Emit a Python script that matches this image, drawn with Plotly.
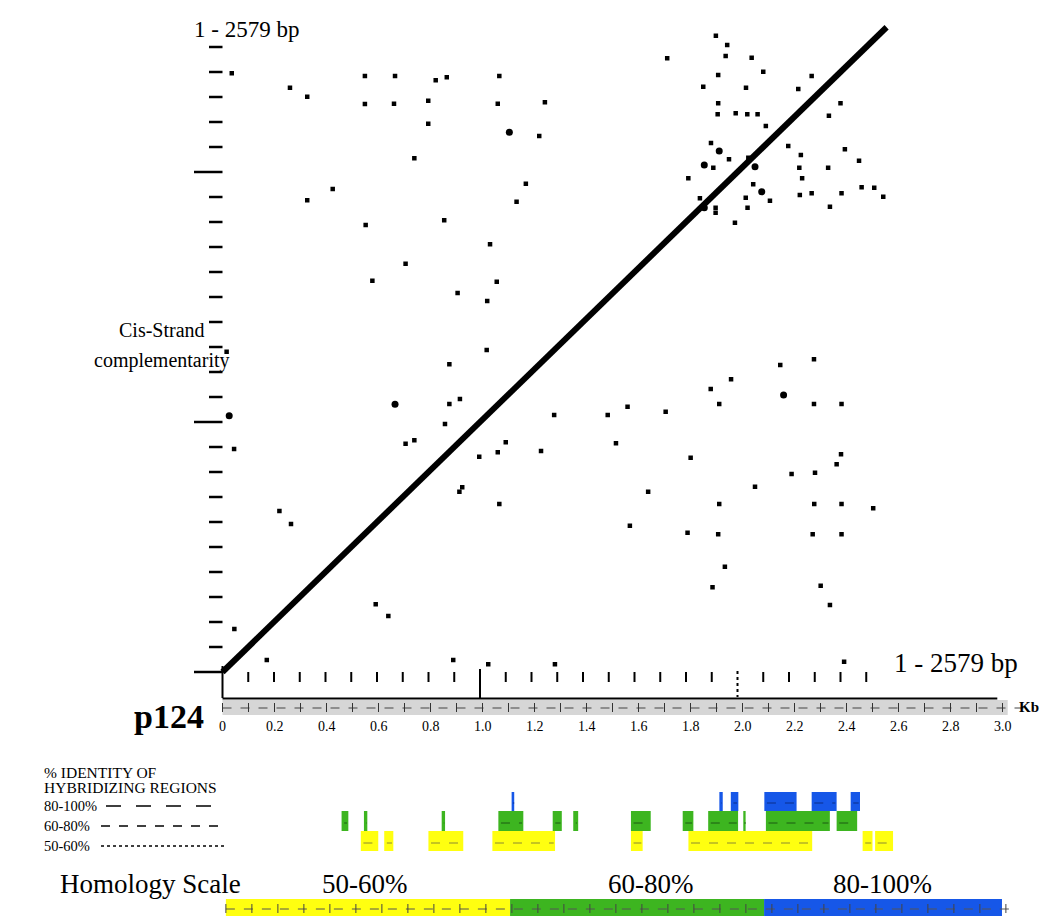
import plotly.graph_objects as go

# ------------------------------------------------------------------ data
SEQ_LEN = 2579  # bp, both axes

# isolated dot-matrix hits (x = position bp, y = position bp)
dot_x = [36, 262, 329, 553, 670, 828, 871, 1075, 553, 666, 799, 1069, 1252, 799, 1230,
         745, 1178, 428, 329, 1142, 556, 861, 1039, 711, 582, 1065, 913, 1028, 1026,
         1916, 1960, 1727, 1954, 2055, 2100, 1925, 2288, 1867, 2033, 2236, 1925, 2400,
         1923, 1993, 2038, 2078, 2355, 2110, 1897, 2197, 2246, 2417, 1967, 1906, 2042,
         2472, 2240, 2352, 1809, 2251, 2061, 2032, 2126, 2242, 2288, 2404, 2482, 2531,
         2566, 2359, 1854, 1915, 1915, 2039, 1990,
         16, 881, 881, 922, 864, 1288, 45, 711, 745, 997, 1069, 1100, 1237, 920, 931,
         1075, 221, 266, 595, 644, 46, 172, 896, 1032, 1291,
         1496, 1573, 1721, 1528, 1818, 1653, 1582, 1806, 1925, 1951, 1903, 2166, 2297,
         1975, 1896, 1929, 2297, 2404, 2068, 2210, 2301, 2402, 2385, 1929, 2298, 2404,
         2527, 2292, 2404, 2323, 2359, 2414]
dot_y = [2395, 2337, 2301, 2384, 2384, 2367, 2379, 2384, 2272, 2273, 2285, 2273, 2279, 2193, 2144,
         2055, 1953, 1932, 1887, 1881, 1788, 1807, 1711, 1633, 1565, 1561, 1516, 1484, 1288,
         2545, 2508, 2455, 2464, 2457, 2401, 2388, 2384, 2341, 2337, 2332, 2275, 2275,
         2231, 2235, 2231, 2231, 2225, 2184, 2116, 2104, 2068, 2091, 2051, 2017, 2057,
         2045, 2017, 2017, 1975, 1975, 1951, 1897, 1885, 1908, 1915, 1915, 1939, 1937,
         1901, 1861, 1895, 1857, 1837, 1857, 1797,
         1281, 1231, 1072, 1092, 992, 1028, 892, 913, 927, 861, 879, 919, 884, 721, 739,
         672, 644, 592, 271, 224, 172, 48, 48, 31, 31,
         1028, 1061, 1041, 915, 857, 721, 585, 557, 551, 421, 339, 1228, 1251,
         1171, 1132, 1072, 1072, 1072, 741, 792, 797, 871, 831, 672, 672, 672,
         655, 551, 551, 345, 268, 41]

# short hit segments / clustered hits (drawn larger)
blob_x = [1114, 1929, 1871, 2068, 1871, 2094, 26, 670, 2179]
blob_y = [2159, 2084, 2028, 2021, 1857, 1921, 1025, 1071, 1108]

# axis ticks (bp)
y_tick_bp = [0, 100, 200, 300, 400, 500, 600, 700, 800, 900, 1000, 1100, 1200, 1300,
             1400, 1500, 1600, 1700, 1800, 1900, 2000, 2100, 2200, 2300, 2400, 2500]
x_tick_bp = [0, 100, 200, 300, 400, 500, 600, 700, 800, 900, 1000, 1100, 1200, 1300,
             1400, 1500, 1600, 1700, 1800, 1900, 2000, 2100, 2200, 2300, 2400, 2500]

# kilobase ruler
kb_ticks = [0, 0.2, 0.4, 0.6, 0.8, 1.0, 1.2, 1.4, 1.6, 1.8, 2.0, 2.2, 2.4, 2.6, 2.8, 3.0]
kb_labels = ["0", "0.2", "0.4", "0.6", "0.8", "1.0", "1.2", "1.4", "1.6", "1.8",
             "2.0", "2.2", "2.4", "2.6", "2.8", "3.0"]
kb_minor = [0.0, 0.1, 0.2, 0.3, 0.4, 0.5, 0.6, 0.7, 0.8, 0.9, 1.0, 1.1, 1.2, 1.3, 1.4,
            1.5, 1.6, 1.7, 1.8, 1.9, 2.0, 2.1, 2.2, 2.3, 2.4, 2.5, 2.6, 2.7, 2.8, 2.9, 3.0]

# hybridizing regions (kb)
hi_start = [1.112, 1.911, 1.955, 2.084, 2.266, 2.416]              # 80-100 %
hi_end = [1.122, 1.924, 1.984, 2.208, 2.362, 2.452]
mid_start = [0.458, 0.544, 0.843, 1.061, 1.270, 1.349, 1.571, 1.770, 1.868, 2.003, 2.090, 2.362]  # 60-80 %
mid_end = [0.484, 0.557, 0.856, 1.157, 1.305, 1.368, 1.647, 1.811, 1.983, 2.012, 2.336, 2.441]
low_start = [0.532, 0.622, 0.792, 1.038, 1.571, 1.792, 2.462, 2.510]  # 50-60 %
low_end = [0.599, 0.657, 0.926, 1.279, 1.616, 2.268, 2.500, 2.579]

# homology scale (kb)
scale_edges = [0.013, 1.106, 2.083, 2.998]
scale_labels = ["50-60%", "60-80%", "80-100%"]

# ------------------------------------------------------------------ geometry / style
W, H = 1044, 916
X0_PX, SX = 222.5, 0.2575   # bp axis: pixel of 0 bp, px per bp
Y0_PX, SY = 672.0, 0.25
K0_PX, SK = 222.5, 260.0    # kb axis: pixel of 0 kb, px per kb
FONT = "Liberation Serif"
YELLOW, GREEN, BLUE = "#ffff10", "#3db520", "#1657e8"
DK_YELLOW, DK_GREEN, DK_BLUE = "#8c8a30", "#1d5a12", "#0a2f8a"


def bx(px):      # pixel x -> bp axis
    return (px - X0_PX) / SX


def by(py):      # pixel y -> bp axis
    return (Y0_PX - py) / SY


def py2p(py):    # pixel y -> paper
    return 1 - py / H


fig = go.Figure()

# main diagonal (sequence vs itself)
fig.add_trace(go.Scatter(x=[0, SEQ_LEN], y=[0, SEQ_LEN], mode="lines",
                         line=dict(color="black", width=6), hoverinfo="skip"))
fig.add_trace(go.Scatter(x=dot_x, y=dot_y, mode="markers",
                         marker=dict(color="black", size=4.5, symbol="square"), hoverinfo="skip"))
fig.add_trace(go.Scatter(x=blob_x, y=blob_y, mode="markers",
                         marker=dict(color="black", size=7, symbol="circle"), hoverinfo="skip"))
# dummy trace so that the kb axis exists
fig.add_trace(go.Scatter(x=[0], y=[0], xaxis="x2", mode="markers",
                         marker=dict(opacity=0), hoverinfo="skip"))

shapes = []
# y ticks
for v in y_tick_bp:
    long = (v % 1000 == 0)
    shapes.append(dict(type="line", xref="x", yref="y", x0=bx(194 if long else 209), x1=0,
                       y0=v, y1=v, line=dict(color="black", width=2.5)))
# x ticks
for v in x_tick_bp:
    if v == 0:
        y0, y1, dash = 666, 698, "solid"
    elif v == 1000:
        y0, y1, dash = 669, 698, "solid"
    elif v == 2000:
        y0, y1, dash = 671, 697, "dot"
    else:
        y0, y1, dash = 672, 682, "solid"
    shapes.append(dict(type="line", xref="x", yref="y", x0=v, x1=v, y0=by(y0), y1=by(y1),
                       line=dict(color="black", width=2, dash=dash)))

# kb ruler band
shapes.append(dict(type="rect", xref="x2", yref="paper", x0=0, x1=3.02, y0=py2p(715), y1=py2p(700),
                   fillcolor="#d6d6d6", line=dict(width=0), layer="below"))
shapes.append(dict(type="line", xref="x2", yref="paper", x0=0, x1=2.98, y0=py2p(698.5), y1=py2p(698.5),
                   line=dict(color="black", width=2)))
shapes.append(dict(type="line", xref="x2", yref="paper", x0=0, x1=3.12, y0=py2p(708), y1=py2p(708),
                   line=dict(color="#444", width=1, dash="dash")))
for v in kb_minor:
    shapes.append(dict(type="line", xref="x2", yref="paper", x0=v, x1=v, y0=py2p(712), y1=py2p(703),
                       line=dict(color="#333", width=1)))

# hybridizing region bars
rows = [(hi_start, hi_end, BLUE, DK_BLUE, 792, 811, 803),
        (mid_start, mid_end, GREEN, DK_GREEN, 811, 831, 823),
        (low_start, low_end, YELLOW, DK_YELLOW, 831, 851, 843)]
for starts, ends, col, dk, top, bot, mid in rows:
    for s, e in zip(starts, ends):
        shapes.append(dict(type="rect", xref="x2", yref="paper", x0=s, x1=e,
                           y0=py2p(bot), y1=py2p(top), fillcolor=col, line=dict(width=0)))
        shapes.append(dict(type="line", xref="x2", yref="paper", x0=s + 0.01, x1=e - 0.005,
                           y0=py2p(mid), y1=py2p(mid), line=dict(color=dk, width=1, dash="dash")))

# legend lines for identity classes
for py, dash, x0 in [(806, "longdash", 106), (826, "dash", 101), (846, "dot", 101)]:
    shapes.append(dict(type="line", xref="paper", yref="paper", x0=x0 / W,
                       x1=225 / W, y0=py2p(py), y1=py2p(py), line=dict(color="black", width=1.3, dash=dash)))

# homology scale bar
for (s, e), col in zip(zip(scale_edges[:-1], scale_edges[1:]), [YELLOW, GREEN, BLUE]):
    shapes.append(dict(type="rect", xref="x2", yref="paper", x0=s, x1=e, y0=0, y1=py2p(899),
                       fillcolor=col, line=dict(width=0)))
shapes.append(dict(type="line", xref="x2", yref="paper", x0=scale_edges[0], x1=3.04,
                   y0=py2p(909), y1=py2p(909), line=dict(color="#555", width=1, dash="dash")))
for v in kb_minor:
    shapes.append(dict(type="line", xref="x2", yref="paper", x0=v + 0.013, x1=v + 0.013,
                       y0=py2p(913), y1=py2p(904), line=dict(color="#444", width=1)))

annotations = []


def txt(x, y, s, size, anchor="left", bold=False, xref="paper"):
    annotations.append(dict(x=x, y=py2p(y), xref=xref, yref="paper", text=f"<b>{s}</b>" if bold else s,
                            showarrow=False, xanchor=anchor, yanchor="middle",
                            font=dict(family=FONT, size=size, color="black")))


txt(192 / W, 29, f"1 - {SEQ_LEN} bp", 23)
txt(892 / W, 663, f"1 - {SEQ_LEN} bp", 27)
txt(162 / W, 330, "Cis-Strand", 20, "center")
txt(162 / W, 360, "complementarity", 20, "center")
txt(206 / W, 716, "p124", 34, "right", bold=True)
for v, lab in zip(kb_ticks, kb_labels):
    annotations.append(dict(x=v, y=py2p(726), xref="x2", yref="paper", text=lab, showarrow=False,
                            xanchor="center", yanchor="middle",
                            font=dict(family=FONT, size=14, color="black")))
txt(1017 / W, 707, "Kb", 15, bold=True)

txt(42 / W, 772, "% IDENTITY OF", 15.5)
txt(42 / W, 787, "HYBRIDIZING REGIONS", 15.5)
txt(42 / W, 806, "80-100%", 14.5)
txt(42 / W, 826, "60-80%", 14.5)
txt(42 / W, 846, "50-60%", 14.5)

txt(150 / W, 884, "Homology Scale", 27, "center")
for lab, cx in zip(scale_labels, [364, 650, 882]):
    txt(cx / W, 884, lab, 27, "center")

fig.update_layout(
    width=W, height=H, margin=dict(l=0, r=0, t=0, b=0),
    paper_bgcolor="white", plot_bgcolor="white", showlegend=False,
    xaxis=dict(range=[bx(0), bx(W)], visible=False, domain=[0, 1]),
    xaxis2=dict(range=[-K0_PX / SK, (W - K0_PX) / SK], visible=False, overlaying="x", domain=[0, 1]),
    yaxis=dict(range=[by(H), by(0)], visible=False, domain=[0, 1]),
    shapes=shapes, annotations=annotations,
)

fig.write_html("out.html", config={"displayModeBar": False},
               post_script="document.body.style.margin='0';")
